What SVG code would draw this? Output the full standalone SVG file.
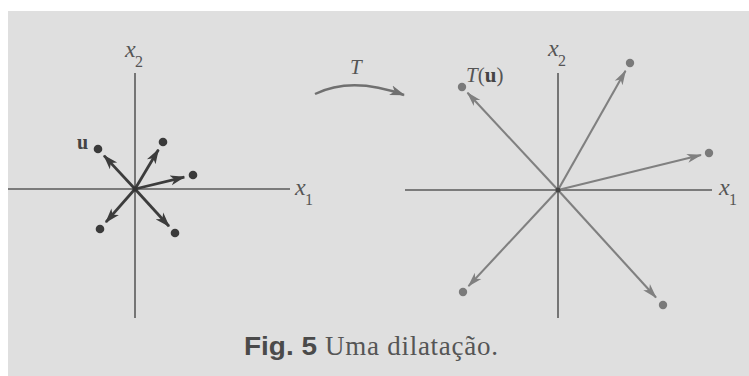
<svg xmlns="http://www.w3.org/2000/svg" width="749" height="376" viewBox="0 0 749 376">
<style>
.axis{stroke:#5a5a5a;stroke-width:1.6;fill:none}
.vl{stroke:#3c3c3c;stroke-width:2.8;fill:none}
.vr{stroke:#808080;stroke-width:2.1;fill:none}
.dl{fill:#3a3a3a}
.dr{fill:#7a7a7a}
.it{font-family:"Liberation Serif",serif;font-style:italic;fill:#555}
.sub{font-family:"Liberation Serif",serif;fill:#555}
.bu{font-family:"Liberation Serif",serif;font-weight:bold;fill:#444}
</style>
<defs>
<marker id="ahL" markerUnits="userSpaceOnUse" markerWidth="15" markerHeight="12" refX="14" refY="5" orient="auto" viewBox="0 0 15 10">
<path d="M0,0 L15,5 L0,10 L4,5 z" fill="#3c3c3c"/>
</marker>
<marker id="ahR" markerUnits="userSpaceOnUse" markerWidth="15" markerHeight="12" refX="14" refY="4.5" orient="auto" viewBox="0 0 15 9">
<path d="M0,0 L15,4.5 L0,9 L4,4.5 z" fill="#808080"/>
</marker>
<marker id="ahT" markerUnits="userSpaceOnUse" markerWidth="15" markerHeight="12" refX="14" refY="5" orient="auto" viewBox="0 0 15 10">
<path d="M0,0 L15,5 L0,10 L4,5 z" fill="#707070"/>
</marker>
</defs>
<rect width="749" height="376" fill="#ffffff"/>
<rect x="8" y="11" width="741" height="365" fill="#dfdfdf"/>

<g id="left-axes">
<line class="axis" x1="8" y1="189" x2="290" y2="189"/>
<line class="axis" x1="135" y1="73" x2="135" y2="318"/>
<text class="it" x="125" y="57" font-size="24">x</text><text class="sub" x="135" y="67" font-size="16">2</text>
<text class="it" x="295" y="195" font-size="24">x</text><text class="sub" x="305" y="205" font-size="16">1</text>
</g>

<g id="left-dots">
<circle class="dl" cx="98" cy="149" r="4.3"/>
<circle class="dl" cx="163" cy="142" r="4.3"/>
<circle class="dl" cx="193" cy="175" r="4.3"/>
<circle class="dl" cx="100" cy="229" r="4.3"/>
<circle class="dl" cx="175" cy="233" r="4.3"/>
<text class="bu" x="77" y="149" font-size="20">u</text>
</g>

<g id="right-axes">
<line class="axis" x1="405" y1="190" x2="712" y2="190"/>
<line class="axis" x1="558" y1="73" x2="558" y2="318"/>
<text class="it" x="548" y="56" font-size="24">x</text><text class="sub" x="558" y="66" font-size="16">2</text>
<text class="it" x="719" y="195" font-size="24">x</text><text class="sub" x="729" y="205" font-size="16">1</text>
</g>

<g id="right-dots">
<circle class="dr" cx="462" cy="87" r="4.2"/>
<circle class="dr" cx="630" cy="63" r="4.2"/>
<circle class="dr" cx="709" cy="153" r="4.2"/>
<circle class="dr" cx="463" cy="292" r="4.2"/>
<circle class="dr" cx="663" cy="305" r="4.2"/>
<text x="466" y="82" font-size="21" font-family="Liberation Serif,serif" fill="#555"><tspan font-style="italic">T</tspan>(<tspan font-weight="bold" fill="#444">u</tspan>)</text>
</g>

<g id="transform-arrow">
<path d="M315,94 Q352,76 404,95" stroke="#707070" stroke-width="2.4" fill="none" marker-end="url(#ahT)"/>
<text class="it" x="350" y="74" font-size="21">T</text>
</g>

<g id="connectors">
<line class="vl" x1="135" y1="189" x2="104" y2="155.6" marker-end="url(#ahL)"/>
<line class="vl" x1="135" y1="189" x2="158.4" y2="149.7" marker-end="url(#ahL)"/>
<line class="vl" x1="135" y1="189" x2="184.3" y2="177.1" marker-end="url(#ahL)"/>
<line class="vl" x1="135" y1="189" x2="105.9" y2="222.2" marker-end="url(#ahL)"/>
<line class="vl" x1="135" y1="189" x2="169" y2="226.3" marker-end="url(#ahL)"/>
<line class="vr" x1="558" y1="190" x2="467.5" y2="92.8" marker-end="url(#ahR)"/>
<line class="vr" x1="558" y1="190" x2="625.5" y2="70.8" marker-end="url(#ahR)"/>
<line class="vr" x1="558" y1="190" x2="701" y2="155" marker-end="url(#ahR)"/>
<line class="vr" x1="558" y1="190" x2="468.5" y2="286.1" marker-end="url(#ahR)"/>
<line class="vr" x1="558" y1="190" x2="656" y2="297.5" marker-end="url(#ahR)"/>
<circle cx="558" cy="190" r="2.5" fill="#444"/>
<circle cx="135" cy="189" r="2.5" fill="#333"/>
</g>

<g id="caption">
<text x="244" y="355" font-size="26" font-family="Liberation Sans,sans-serif" font-weight="bold" fill="#4a4a4a" textLength="73" lengthAdjust="spacingAndGlyphs">Fig. 5</text>
<text x="325" y="355" font-size="27" font-family="Liberation Serif,serif" fill="#555" textLength="173">Uma dilatação.</text>
</g>
</svg>
